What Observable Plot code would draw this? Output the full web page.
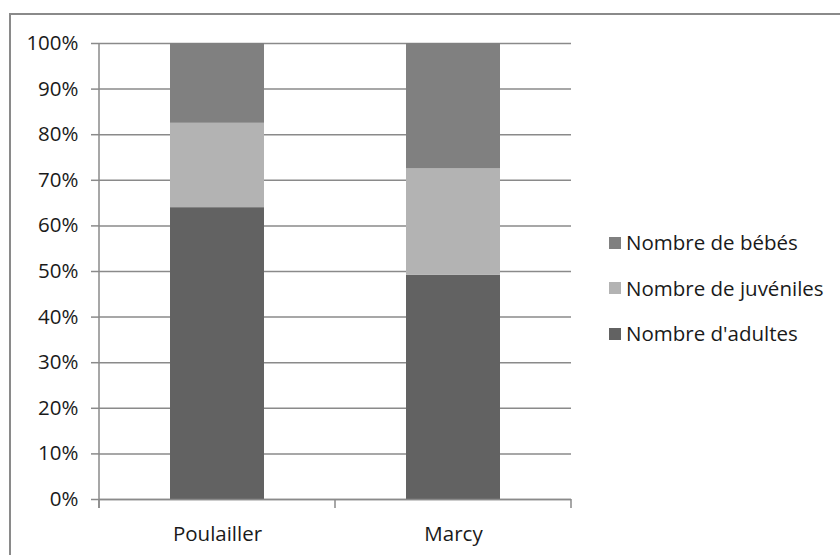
<!DOCTYPE html>
<html>
<head>
<meta charset="utf-8">
<script src="https://cdn.jsdelivr.net/npm/d3@7"></script>
<script src="https://cdn.jsdelivr.net/npm/@observablehq/plot@0.6"></script>
<style>
  html, body { margin: 0; padding: 0; background: #fff; }
  #chart { position: relative; width: 840px; height: 555px; overflow: hidden; font-family: "Open Sans", sans-serif; color: #1a1a1a; }
  #border { position: absolute; left: 9px; top: 13px; right: -4px; bottom: -4px; border-top: 2px solid #8a8a8a; border-left: 2px solid #8a8a8a; pointer-events: none; }
  #legend { position: absolute; left: 609px; top: 220px; font-size: 20.5px; line-height: 45.5px; }
  #legend .row { display: flex; align-items: center; height: 45.5px; white-space: nowrap; }
  #legend .sw { width: 12px; height: 12px; margin-right: 5px; flex: none; }
</style>
</head>
<body>
<div id="chart"><div id="border"></div></div>
<script>
// Sites and age groups (stacked bottom to top)
const sites = ["Poulailler", "Marcy"];
const groups = ["Nombre d'adultes", "Nombre de juvéniles", "Nombre de bébés"];
const colors = ["#626262", "#b3b3b3", "#808080"];

// Share of each group per site, in percent
const adultes = [64.0, 49.2];
const juveniles = [18.5, 23.3];
const bebes = [17.5, 27.5];

// Y axis ticks
const yTicks = [0, 10, 20, 30, 40, 50, 60, 70, 80, 90, 100];

const series = [adultes, juveniles, bebes];
const rows = sites.flatMap((site, i) =>
  groups.map((group, g) => ({site, group, share: series[g][i]}))
);

const gridColor = "#8a8a8a";

// Category axis line with boundary ticks between sites
function categoryFrame(index, scales, values, dimensions) {
  const {x, y} = scales;
  const {marginLeft} = dimensions;
  const step = x(sites[1]) - x(sites[0]);
  const y0 = y(0), y1 = y(100);
  const g = d3.create("svg:g").attr("stroke", gridColor).attr("stroke-width", 1.5);
  g.append("line")
    .attr("x1", marginLeft).attr("x2", marginLeft)
    .attr("y1", y1).attr("y2", y0 + 9);
  d3.range(sites.length + 1).forEach(k => {
    const bx = marginLeft + k * step;
    g.append("line").attr("x1", bx).attr("x2", bx).attr("y1", y0).attr("y2", y0 + 9);
  });
  return g.node();
}

const chart = Plot.plot({
  width: 840,
  height: 555,
  marginLeft: 99,
  marginRight: 269,
  marginTop: 43,
  marginBottom: 56,
  style: {background: "transparent", fontFamily: "Open Sans, sans-serif", fontSize: "20.5px", color: "#1a1a1a", overflow: "visible"},
  x: {domain: sites, paddingInner: 0.6, paddingOuter: 0.3, axis: null},
  y: {domain: [0, 100], axis: null},
  color: {domain: groups, range: colors},
  marks: [
    Plot.gridY(yTicks, {stroke: gridColor, strokeOpacity: 1, strokeWidth: 1.5}),
    Plot.axisY(yTicks, {tickSize: 8, tickPadding: 13, stroke: gridColor, strokeWidth: 1.5, fill: "#1a1a1a", tickFormat: d => d + "%", label: null}),
    Plot.barY(rows, {x: "site", y: "share", fill: "group", order: groups}),
    Plot.ruleY([0], {stroke: gridColor, strokeWidth: 1.5}),
    categoryFrame,
    Plot.axisX({tickSize: 0, tickPadding: 27, fill: "#1a1a1a", label: null})
  ]
});

const root = document.getElementById("chart");
root.insertBefore(chart, root.firstChild);

// Legend, top row = last stacked group
const legend = document.createElement("div");
legend.id = "legend";
groups.slice().reverse().forEach(name => {
  const row = document.createElement("div");
  row.className = "row";
  const sw = document.createElement("span");
  sw.className = "sw";
  sw.style.background = colors[groups.indexOf(name)];
  const label = document.createElement("span");
  label.textContent = name;
  row.append(sw, label);
  legend.append(row);
});
root.append(legend);
</script>
</body>
</html>
